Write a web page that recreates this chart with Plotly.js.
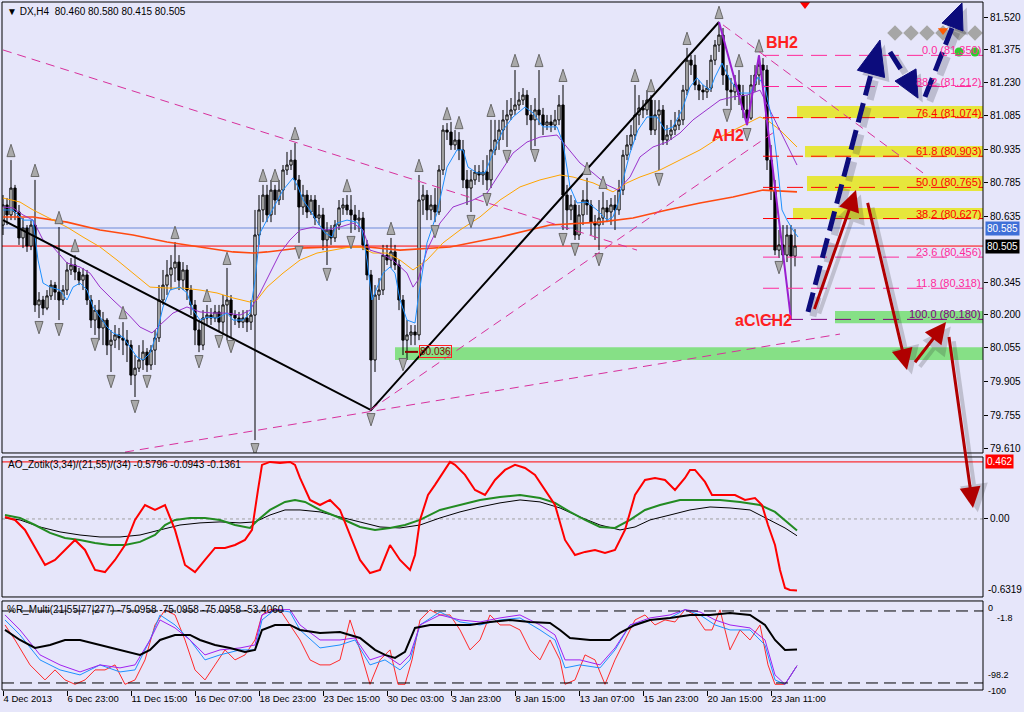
<!DOCTYPE html>
<html><head><meta charset="utf-8">
<script src="https://cdn.plot.ly/plotly-3.0.1.min.js"></script>
<style>html,body{margin:0;padding:0;background:#e6e6fa;}#chart{width:1024px;height:712px;}</style>
</head><body><div id="chart"></div>
<script>
// ---------- DATA (DX, H4) ----------
const dateTickBars = [0,16,32,48,64,80,96,112,128,144,160,176,192];
const dateTickLabels = ['4 Dec 2013','6 Dec 23:00','11 Dec 15:00','16 Dec 07:00','18 Dec 23:00','23 Dec 15:00','30 Dec 03:00','3 Jan 23:00','8 Jan 15:00','13 Jan 07:00','15 Jan 23:00','20 Jan 15:00','23 Jan 11:00'];
const priceTicks = [81.52,81.375,81.23,81.085,80.935,80.785,80.635,80.345,80.2,80.055,79.905,79.755,79.61];

const open = [80.598,80.687,80.643,80.762,80.656,80.541,80.585,80.505,80.598,80.244,
80.266,80.230,80.284,80.332,80.301,80.266,80.310,80.399,80.421,80.390,
80.354,80.377,80.266,80.177,80.221,80.142,80.177,80.066,80.088,80.111,
80.098,80.088,80.066,79.933,79.964,80.000,80.035,79.978,80.044,80.098,
80.266,80.332,80.377,80.408,80.434,80.354,80.399,80.310,80.244,80.133,
80.066,80.186,80.199,80.186,80.213,80.168,80.244,80.266,80.199,80.186,
80.168,80.186,80.168,80.199,80.554,80.665,80.731,80.643,80.753,80.709,
80.753,80.842,80.864,80.886,80.798,80.678,80.731,80.656,80.709,80.629,
80.643,80.532,80.576,80.541,80.598,80.674,80.687,80.665,80.643,80.620,
80.629,80.510,80.377,80.000,80.288,80.310,80.465,80.443,80.479,80.421,
80.266,80.088,80.111,80.124,80.111,80.709,80.731,80.665,80.687,80.656,
80.842,81.019,81.010,80.953,80.975,80.931,80.798,80.762,80.798,80.833,
80.820,80.833,80.798,80.931,80.975,81.019,81.064,81.086,81.108,81.130,
81.152,81.174,81.086,81.064,81.108,81.086,81.041,81.055,81.041,81.064,
81.130,80.731,80.665,80.687,80.554,80.643,80.709,80.687,80.611,80.598,
80.629,80.674,80.656,80.687,80.665,80.753,80.908,80.953,80.997,81.086,
81.117,81.108,81.152,81.019,81.086,81.108,80.975,80.997,81.019,81.041,
81.064,81.196,81.329,81.307,81.219,81.196,81.188,81.205,81.329,81.396,
81.440,81.263,81.196,81.188,81.219,81.174,81.108,81.072,81.219,81.263,
81.307,81.285,80.886,80.753,80.487,80.510,80.465,80.554,80.460];
const high = [80.731,80.718,80.886,80.776,80.687,80.629,80.598,80.620,80.798,80.301,
80.284,80.310,80.354,80.346,80.589,80.332,80.434,80.452,80.465,80.408,
80.408,80.399,80.288,80.244,80.266,80.213,80.186,80.133,80.155,80.142,
80.168,80.133,80.088,80.022,80.066,80.088,80.053,80.066,80.133,80.332,
80.399,80.443,80.465,80.523,80.465,80.434,80.421,80.332,80.266,80.177,
80.221,80.244,80.230,80.244,80.244,80.288,80.408,80.288,80.221,80.213,
80.221,80.221,80.266,80.665,80.731,80.776,80.776,80.798,80.776,80.798,
80.864,80.922,80.931,80.962,80.820,80.776,80.753,80.731,80.731,80.687,
80.674,80.611,80.598,80.620,80.709,80.718,80.731,80.731,80.687,80.665,
80.656,80.532,80.399,80.332,80.363,80.510,80.510,80.541,80.510,80.443,
80.288,80.177,80.155,80.155,80.820,80.776,80.753,80.731,80.762,80.864,
81.041,81.050,81.055,81.019,81.010,80.975,80.842,80.842,80.864,80.864,
80.886,80.908,81.064,81.064,81.064,81.108,81.152,81.161,81.285,81.188,
81.205,81.196,81.130,81.161,81.285,81.117,81.086,81.086,81.108,81.174,
81.219,80.776,80.731,80.709,80.687,80.753,80.807,80.709,80.643,80.709,
80.745,80.709,80.718,80.731,80.798,80.931,80.997,81.041,81.219,81.174,
81.152,81.196,81.174,81.152,81.152,81.130,81.041,81.064,81.099,81.108,
81.219,81.383,81.352,81.352,81.241,81.219,81.241,81.352,81.418,81.498,
81.471,81.307,81.250,81.263,81.285,81.219,81.174,81.263,81.307,81.350,
81.338,81.307,80.953,80.798,80.576,80.598,80.598,80.598,80.580];
const low = [80.554,80.598,80.620,80.620,80.510,80.496,80.479,80.487,80.213,80.186,
80.199,80.221,80.266,80.266,80.177,80.244,80.288,80.377,80.354,80.332,
80.310,80.244,80.142,80.111,80.088,80.066,80.022,79.947,80.053,80.044,
80.022,79.991,79.889,79.836,79.947,79.956,79.947,79.956,79.978,80.080,
80.244,80.288,80.310,80.346,80.310,80.310,80.266,80.199,80.066,80.035,
80.044,80.155,80.155,80.168,80.124,80.111,80.088,80.102,80.155,80.142,
80.142,80.124,80.133,79.645,80.510,80.611,80.611,80.611,80.643,80.687,
80.709,80.820,80.842,80.753,80.519,80.643,80.629,80.643,80.598,80.598,
80.487,80.421,80.510,80.523,80.576,80.643,80.643,80.563,80.576,80.567,
80.487,80.354,79.778,79.947,80.266,80.288,80.421,80.408,80.399,80.221,
80.022,80.000,80.066,80.066,80.088,80.643,80.620,80.620,80.611,80.643,
80.820,80.975,80.931,80.931,80.886,80.762,80.687,80.656,80.776,80.789,
80.776,80.753,80.762,80.908,80.931,80.975,80.944,81.064,81.086,81.108,
81.130,81.041,80.931,80.948,81.041,80.997,81.019,81.010,81.019,81.041,
80.576,80.576,80.620,80.532,80.532,80.598,80.643,80.554,80.532,80.487,
80.598,80.611,80.598,80.576,80.643,80.731,80.886,80.931,80.975,81.041,
81.072,81.086,80.997,80.997,80.842,80.953,80.953,80.975,80.997,81.019,
81.041,81.174,81.263,81.196,81.152,81.152,81.161,81.188,81.307,81.365,
81.219,81.126,81.108,81.152,81.130,81.072,81.041,81.064,81.188,81.219,
81.196,80.842,80.709,80.465,80.452,80.434,80.434,80.180,80.415];
const close = [80.687,80.643,80.762,80.656,80.541,80.585,80.505,80.598,80.244,80.266,
80.230,80.284,80.332,80.301,80.266,80.310,80.399,80.421,80.390,80.354,
80.377,80.266,80.177,80.221,80.142,80.177,80.066,80.088,80.111,80.098,
80.088,80.066,79.933,79.964,80.000,80.035,79.978,80.044,80.098,80.266,
80.332,80.377,80.408,80.434,80.354,80.399,80.310,80.244,80.133,80.066,
80.186,80.199,80.186,80.213,80.168,80.244,80.266,80.199,80.186,80.168,
80.186,80.168,80.199,80.554,80.665,80.731,80.643,80.753,80.709,80.753,
80.842,80.864,80.886,80.798,80.678,80.731,80.656,80.709,80.629,80.643,
80.532,80.576,80.541,80.598,80.674,80.687,80.665,80.643,80.620,80.629,
80.510,80.377,80.000,80.288,80.310,80.465,80.443,80.479,80.421,80.266,
80.088,80.111,80.124,80.111,80.709,80.731,80.665,80.687,80.656,80.842,
81.019,81.010,80.953,80.975,80.931,80.798,80.762,80.798,80.833,80.820,
80.833,80.798,80.931,80.975,81.019,81.064,81.086,81.108,81.130,81.152,
81.174,81.086,81.064,81.108,81.086,81.041,81.055,81.041,81.064,81.130,
80.731,80.665,80.687,80.554,80.643,80.709,80.687,80.611,80.598,80.629,
80.674,80.656,80.687,80.665,80.753,80.908,80.953,80.997,81.086,81.117,
81.108,81.152,81.019,81.086,81.108,80.975,80.997,81.019,81.041,81.064,
81.196,81.329,81.307,81.219,81.196,81.188,81.205,81.329,81.396,81.440,
81.263,81.196,81.188,81.219,81.174,81.108,81.072,81.219,81.263,81.307,
81.285,80.886,80.753,80.487,80.510,80.465,80.554,80.460,80.505];

// moving averages (bar position, value)
const blueIdx = [0,2.5,5,7.5,8.75,10,11.75,14.25,16,17.5,19.25,21,22.5,24.25,26,27.5,30,31.75,33.5,35,36.75,38.5,40,41.75,44.25,46,47.5,49.25,51,53.5,56,57.5,60,61.75,63,64.25,66,67.5,70,72.5,73.75,75,76.75,78.75,80.5,82.25,83.5,86,88.5,89.75,91,92.25,93.5,95,96.75,98,99.25,101,103,103.75,106,108.5,111,113.5,115,116.25,118.5,120.5,122.5,125,127.5,130.5,132.5,135,138.5,140,141.75,143.5,146,148.5,151,152.5,153.75,155,156.75,158.75,161,163.5,165.5,167.5,169.75,171.75,173.5,175,176.75,178,179.75,181.75,184.25,186.75,188.75,190.5,192.25,193.5,194.75,196,197.5,198.75];
const blueVal = [80.665,80.665,80.620,80.620,80.443,80.341,80.323,80.310,80.266,80.323,80.341,80.310,80.235,80.190,80.146,80.120,80.102,80.057,80.013,80.000,80.031,80.120,80.235,80.310,80.323,80.297,80.221,80.177,80.190,80.186,80.208,80.177,80.177,80.208,80.354,80.563,80.620,80.665,80.753,80.807,80.767,80.709,80.665,80.607,80.563,80.545,80.607,80.620,80.611,80.576,80.443,80.266,80.323,80.385,80.412,80.385,80.266,80.177,80.164,80.266,80.519,80.651,80.855,80.931,80.931,80.855,80.829,80.829,80.917,81.019,81.077,81.121,81.095,81.033,81.033,80.962,80.767,80.696,80.700,80.665,80.620,80.634,80.696,80.798,80.917,81.019,81.077,81.077,81.019,81.033,81.108,81.210,81.250,81.219,81.196,81.254,81.316,81.241,81.183,81.183,81.254,81.210,81.064,80.886,80.665,80.620,80.576,80.545];
const purpIdx = [0,2.5,5,7.5,10,12.5,16,19.25,21.75,24.25,27.5,31,34.25,37.25,39.25,42.5,46,49.25,52.5,56,59.25,61.75,64.25,66.75,69.25,71.75,74.25,77.5,81,84.25,87.5,90,91.75,94.25,97.5,101,102.5,103.75,106,109.25,112.5,117.5,121,124.25,127.5,131,134.25,138.5,141,144.25,147.5,151,153.75,156.75,159.25,162.5,166,169.25,172.5,176,179.25,182.5,186,189.25,191.75,194.25,198.5];
const purpVal = [80.678,80.674,80.643,80.620,80.532,80.501,80.430,80.412,80.385,80.323,80.266,80.208,80.146,80.120,80.155,80.208,80.235,80.213,80.208,80.208,80.199,80.221,80.297,80.385,80.474,80.532,80.576,80.589,80.576,80.589,80.607,80.576,80.487,80.474,80.443,80.385,80.323,80.354,80.487,80.607,80.678,80.709,80.740,80.829,80.917,80.966,80.988,80.997,80.944,80.873,80.829,80.776,80.753,80.811,80.900,80.944,80.966,81.006,81.064,81.108,81.152,81.166,81.174,81.196,81.108,81.019,80.864];
const orIdx = [0,4.25,7.5,11,16,20,24.25,28.5,32.5,36.75,41,45,49.25,53.5,57.5,61.75,63.5,66,70,74.25,78.5,82.5,86.75,89.25,92.5,96,99.25,102.5,106,110,114.25,119.25,124.25,129.25,134.25,139.25,142.5,147.5,152.5,156,159.25,164.25,169.25,174.25,179.25,184.25,189.25,191,194.25,198.5];
const orVal = [80.718,80.700,80.665,80.634,80.589,80.545,80.501,80.443,80.385,80.323,80.319,80.319,80.310,80.297,80.275,80.257,80.266,80.323,80.385,80.443,80.474,80.487,80.501,80.501,80.474,80.474,80.443,80.399,80.443,80.519,80.576,80.634,80.709,80.767,80.798,80.820,80.811,80.785,80.745,80.785,80.811,80.842,80.886,80.931,80.988,81.033,81.077,81.064,81.019,80.944];
const slowIdx = [0,7.5,16,24.25,32.5,41,49.25,57.5,62.5,66,74.25,82.5,91,99.25,111.75,124.25,136.75,149.25,157.5,166,174.25,182.5,190,198.5];
const slowVal = [80.634,80.634,80.611,80.576,80.554,80.523,80.501,80.479,80.474,80.479,80.496,80.501,80.501,80.487,80.501,80.545,80.598,80.611,80.629,80.665,80.696,80.722,80.753,80.745];

// zigzag pivots
const zzIdx = [0,92,179];
const zzVal = [80.620,79.778,81.498];
const harmIdx = [179,186,189,197];
const harmVal = [81.498,81.041,81.350,80.180];

// fractals (bar numbers)
const fracUp = [2,8,14,18,30,43,51,56,65,68,73,86,97,104,111,114,122,128,134,140,146,150,158,162,171,179,184,189];
const fracDn = [9,14,23,27,33,36,49,54,57,63,74,81,87,92,100,108,117,121,126,133,140,143,149,164,181,186,194];

// fibonacci retracement
const fibPct = ['0.0','88.2','76.4','61.8','50.0','38.2','23.6','11.8','100.0'];
const fibPrice = [81.350,81.212,81.074,80.903,80.765,80.627,80.456,80.318,80.180];
const fibColor = ['#ff2a9a','#ff2a9a','#ff0000','#ff0000','#ff0000','#ff0000','#ff2a9a','#ff2a9a','#800080'];

// zones
const zoneStart = [198.5,200.5,201,197.5,208,98];
const zoneLow = [81.072,80.899,80.749,80.624,80.163,80.000];
const zoneHigh = [81.126,80.948,80.815,80.674,80.217,80.057];
const zoneColor = ['#e6e63c','#e6e63c','#e6e63c','#e6e63c','#86e086','#86e086'];

// channel lines [x0,y0,x1,y1]
const channels = [[0,81.374,158.5,80.487],[91.75,79.778,194.25,81.028],[180,81.485,230,80.829],[30.5,79.592,209.25,80.115]];

const lastPrice = 80.505, askPrice = 80.585, markLevel = 80.036;

// AO_Zotik
const aoRIdx = [0.5,3,5.5,8,10.5,13,15.5,18,20.5,23,25.5,28,30.5,33,35.5,38,40.5,43,45.5,48,50.5,53,55.5,58,60.5,62.25,63.75,64.75,66.75,69.25,71.75,73,74.25,76.75,79.25,81.75,84.25,86.75,89.25,91.75,94.25,96.75,99.25,101.75,103,104.25,106.25,108,110.5,111.75,113,115.5,118,120.5,123,125.5,128,130.5,133,135.5,138,140.5,143,145.5,148,150.5,153,155.5,158,160.5,163,165.5,168,170.5,171.75,173,175.5,177.25,179.25,183,185.5,188,189.75,191.25,193,194.25,195.5,196.75,198.5];
const aoRVal = [0.016,-0.008,-0.089,-0.235,-0.373,-0.332,-0.251,-0.170,-0.251,-0.413,-0.430,-0.332,-0.211,-0.008,0.113,0.073,0.113,-0.089,-0.373,-0.430,-0.332,-0.235,-0.235,-0.211,-0.170,-0.089,0.235,0.438,0.462,0.454,0.462,0.438,0.332,0.154,0.113,0.154,0.073,-0.130,-0.332,-0.438,-0.413,-0.211,-0.332,-0.413,-0.292,-0.008,0.194,0.276,0.397,0.462,0.438,0.357,0.235,0.194,0.316,0.397,0.438,0.413,0.357,0.235,0.113,-0.170,-0.292,-0.267,-0.251,-0.276,-0.251,-0.089,0.194,0.316,0.332,0.316,0.235,0.332,0.397,0.397,0.300,0.194,0.194,0.194,0.154,0.170,0.113,-0.049,-0.211,-0.413,-0.559,-0.575,-0.5796];
const aoGIdx = [0.5,4.25,8,11.75,15.5,19.25,23,26.75,30.5,34.25,38,40.5,43,46.75,50.5,54.25,58,61.75,63.75,66.75,70.5,73,75.5,79.25,84.25,89.25,93,96.75,100.5,104.25,109.25,114.25,119.25,124.25,129.25,134.25,138,141.75,145.5,149.25,153,156.75,160.5,164.25,169.25,174.25,179.25,184.25,189.25,193,196.75,198.5];
const aoGVal = [0.032,0.008,-0.049,-0.113,-0.154,-0.170,-0.194,-0.211,-0.211,-0.186,-0.130,-0.049,-0.008,0.008,0.008,-0.008,-0.049,-0.073,-0.008,0.073,0.138,0.154,0.138,0.073,0.008,-0.065,-0.089,-0.073,-0.049,-0.008,0.073,0.113,0.154,0.178,0.194,0.170,0.130,0.057,-0.008,-0.065,-0.073,-0.008,0.073,0.113,0.154,0.154,0.154,0.138,0.113,0.057,-0.049,-0.0943];
const aoKIdx = [0.5,4.25,9.25,14.25,19.25,24.25,29.25,34.25,39.25,44.25,49.25,54.25,59.25,63,66.75,70.5,74.25,79.25,84.25,89.25,94.25,99.25,104.25,109.25,114.25,119.25,124.25,129.25,134.25,139.25,144.25,149.25,154.25,158,161.75,166.75,171.75,176.75,181.75,186.75,191.75,195.5,198.5];
const aoKVal = [0.008,-0.008,-0.065,-0.105,-0.130,-0.146,-0.146,-0.130,-0.089,-0.049,-0.032,-0.024,-0.032,-0.024,0.032,0.073,0.073,0.057,0.016,-0.024,-0.065,-0.073,-0.049,0.008,0.057,0.097,0.130,0.154,0.138,0.089,0.016,-0.049,-0.089,-0.065,-0.008,0.032,0.073,0.097,0.089,0.073,-0.008,-0.073,-0.1361];
const aoLevel = 0.462;

// %R_Multi
const wrKIdx = [0.5,4.25,8,11.75,15.5,19.25,24.25,29.25,34.25,36.75,39.25,43,46.75,49.25,53,56.75,60.5,63,64.75,68,71.75,74.25,79.25,84.25,89.25,93,95.5,98,100.5,103,106.75,111.75,116.75,121.75,126.75,131.75,136.75,139.25,141.75,146.75,151.75,154.25,158,161.75,166.75,171.75,176.75,181.75,186.75,190.5,193,195.5,198.5];
const wrKVal = [-27.2,-40.6,-51.3,-47.3,-40.6,-40.6,-47.3,-53.9,-60.6,-53.9,-40.6,-33.9,-33.9,-40.6,-47.3,-51.3,-56.6,-53.9,-27.2,-20.5,-20.5,-27.2,-31.2,-29.9,-37.9,-53.9,-60.6,-64.7,-56.6,-24.5,-20.5,-20.5,-20.5,-16.5,-13.8,-16.5,-17.8,-27.2,-37.9,-40.6,-40.6,-31.2,-20.5,-13.8,-11.1,-7.1,-7.1,-4.4,-7.1,-20.5,-40.6,-53.9,-53.406];
const wrRIdx = [0.5,3,6.75,10.5,13,15.5,18,20.5,23,25.5,28,30.5,33,35.5,38,40.5,43,45.5,48,50.5,53,55.5,58,60.5,63,64.75,66.75,69.25,71.75,74.25,76.75,79.25,81.75,84.25,86.75,89.25,91.75,94.25,96.75,98.75,100.5,102.25,104.25,106.75,109.25,111.75,114.25,116.75,119.25,121.75,124.25,126.75,129.25,131.75,134.25,136.75,139.25,140.5,143,145.5,148,150.5,153,155.5,158,160.5,163,165.5,168,170.5,173,175.5,177.25,179.25,181.75,184.25,186.75,189.25,191.25,193,195.5,198.5];
const wrRVal = [-20.5,-40.6,-74.0,-94.1,-80.7,-94.1,-100,-94.1,-80.7,-80.7,-74.0,-100,-94.1,-67.3,-20.5,-0.4,-7.1,-40.6,-80.7,-94.1,-74.0,-53.9,-67.3,-60.6,-40.6,-7.1,0,-0.4,-20.5,-40.6,-67.3,-74.0,-74.0,-67.3,-13.8,-53.9,-100,-67.3,-53.9,-100,-100,-67.3,-13.8,-0.4,-7.1,-7.1,-27.2,-53.9,-40.6,-7.1,-20.5,-20.5,-27.2,-53.9,-67.3,-40.6,-67.3,-100,-94.1,-60.6,-67.3,-100,-67.3,-40.6,-13.8,-7.1,-20.5,-13.8,-16.5,0,-7.1,-27.2,-27.2,-0.4,-53.9,-27.2,-40.6,-20.5,-74.0,-100,-100,-75.0958];
const wrMidIdx = [0.5,4.25,9.25,14.25,19.25,24.25,29.25,33,36.75,39.25,43,46.75,50.5,54.25,59.25,63,64.75,68,71.75,74.25,79.25,84.25,88,91.75,95.5,99.25,101.75,104.25,109.25,114.25,119.25,124.25,129.25,134.25,138,140.5,144.25,149.25,153,156.75,161.75,166.75,170.5,174.25,178,181.75,186.75,190.5,193,195.5,198.5];
const wrBVal = [-13.8,-33.9,-67.3,-80.7,-87.4,-74.0,-83.4,-80.7,-40.6,-7.1,-20.5,-40.6,-67.3,-60.6,-53.9,-53.9,-13.8,0,-3.1,-27.2,-51.3,-47.3,-40.6,-74.0,-67.3,-80.7,-67.3,-20.5,-3.1,-16.5,-20.5,-13.8,-11.1,-27.2,-40.6,-78.0,-74.0,-78.0,-53.9,-20.5,-13.8,-11.1,0,-7.1,-20.5,-27.2,-27.2,-47.3,-94.1,-100,-75.0958];
const wrPVal = [-7.1,-27.2,-60.6,-74.0,-83.4,-74.0,-78.0,-74.0,-40.6,-13.8,-24.5,-40.6,-60.6,-53.9,-51.3,-47.3,-7.1,0,0,-20.5,-40.6,-40.6,-37.9,-67.3,-60.6,-74.0,-60.6,-20.5,-7.1,-13.8,-16.5,-11.1,-7.1,-20.5,-33.9,-67.3,-67.3,-74.0,-51.3,-20.5,-11.1,-7.1,0,-3.1,-13.8,-20.5,-24.5,-40.6,-87.4,-100,-75.0958];
const wrLevels = [-1.8,-98.2];

// markers on the right
const diamondIdx = [223,227,231,235,239,243];
const diamondVal = 81.449;
const dotIdx = [239,243];
const dotVal = 81.365;

// drawn projection arrows
const navyLines = [[201.25,80.213,217,81.267],[221.75,81.365,225.5,81.259],[230.5,81.166,237.25,81.471]];
const navyHeads = [[[219.25,81.418],[220.4,81.252],[213.6,81.284]],[[228.75,81.161],[228.25,81.290],[223,81.236]],[[239.75,81.582],[240,81.458],[234.75,81.493]]];
const redArrows = [[213.25,80.753,'y',-44,126],[226,79.956,'y',-41,-174],[235.75,80.168,'y',-34,44],[242.5,0.089,'y2',-25,-178]];

// ---------- BUILD ----------
const FONT = 'Liberation Sans, Arial, sans-serif';
const idx = close.map((_, k) => k);
const traces = [];
function line(x, y, ya, color, width, extra) {
  return Object.assign({type:'scatter', mode:'lines', x:x, y:y, xaxis:'x', yaxis:ya,
    line:{color:color, width:width}, hoverinfo:'skip'}, extra || {});
}
traces.push(line(slowIdx, slowVal, 'y', '#ff4a10', 1.6));
traces.push(line(orIdx, orVal, 'y', '#ffa500', 1));
traces.push({type:'candlestick', x:idx, open:open, high:high, low:low, close:close, xaxis:'x', yaxis:'y',
  increasing:{line:{color:'#000000', width:1}, fillcolor:'#ffffff'},
  decreasing:{line:{color:'#000000', width:1}, fillcolor:'#000000'},
  whiskerwidth:0, hoverinfo:'skip'});
traces.push(line(purpIdx, purpVal, 'y', '#9932cc', 1));
traces.push(line(blueIdx, blueVal, 'y', '#1e90ff', 1));
traces.push(line(zzIdx, zzVal, 'y', '#000000', 2));
traces.push(line(harmIdx, harmVal, 'y', '#9a1fd0', 2));
traces.push({type:'scatter', mode:'markers', x:fracUp, y:fracUp.map(k => high[k] + 0.07), xaxis:'x', yaxis:'y',
  marker:{symbol:'arrow', size:13, color:'#a9a9a9', line:{color:'#6a6a6a', width:1}}, hoverinfo:'skip'});
traces.push({type:'scatter', mode:'markers', x:fracDn, y:fracDn.map(k => low[k] - 0.07), xaxis:'x', yaxis:'y',
  marker:{symbol:'arrow', angle:180, size:13, color:'#a9a9a9', line:{color:'#6a6a6a', width:1}}, hoverinfo:'skip'});
traces.push({type:'scatter', mode:'markers', x:diamondIdx, y:diamondIdx.map(() => diamondVal), xaxis:'x', yaxis:'y',
  marker:{symbol:'diamond', size:12, color:'#a6a6a6'}, hoverinfo:'skip'});
traces.push({type:'scatter', mode:'markers', x:dotIdx, y:dotIdx.map(() => dotVal), xaxis:'x', yaxis:'y',
  marker:{symbol:'circle', size:9, color:'#2ecc2e'}, hoverinfo:'skip'});
traces.push({type:'scatter', mode:'markers', x:[235], y:[81.46], xaxis:'x', yaxis:'y',
  marker:{symbol:'triangle-down', size:9, color:'#ff5a00'}, hoverinfo:'skip'});
traces.push({type:'scatter', mode:'markers', x:[200.5], y:[81.575], xaxis:'x', yaxis:'y',
  marker:{symbol:'triangle-down', size:9, color:'#ff0000'}, hoverinfo:'skip'});
// AO panel
traces.push(line(aoKIdx, aoKVal, 'y2', '#000000', 1));
traces.push(line(aoGIdx, aoGVal, 'y2', '#228b22', 2));
traces.push(line(aoRIdx, aoRVal, 'y2', '#ff0000', 2));
// %R panel
traces.push(line(wrRIdx, wrRVal, 'y3', '#ff2a2a', 1));
traces.push(line(wrMidIdx, wrBVal, 'y3', '#1e90ff', 1));
traces.push(line(wrMidIdx, wrPVal, 'y3', '#a020f0', 1));
traces.push(line(wrKIdx, wrKVal, 'y3', '#000000', 2));

const shapes = [];
zoneStart.forEach((s, k) => shapes.push({type:'rect', xref:'x', yref:'y', x0:s, x1:245, y0:zoneLow[k], y1:zoneHigh[k],
  fillcolor:zoneColor[k], line:{width:0}, layer:'below'}));
shapes.push({type:'line', xref:'paper', yref:'y', x0:0, x1:1, y0:askPrice, y1:askPrice, line:{color:'#6d8ad8', width:1}, layer:'below'});
shapes.push({type:'line', xref:'paper', yref:'y', x0:0, x1:1, y0:lastPrice, y1:lastPrice, line:{color:'#ff0000', width:1}, layer:'below'});
fibPrice.forEach((p, k) => shapes.push({type:'line', xref:'x', yref:'y', x0:190, x1:245, y0:p, y1:p,
  line:{color:fibColor[k], width:1, dash:'16px,8px'}}));
channels.forEach(c => shapes.push({type:'line', xref:'x', yref:'y', x0:c[0], y0:c[1], x1:c[2], y1:c[3],
  line:{color:'#d8309c', width:1, dash:'9px,6px'}}));
shapes.push({type:'line', xref:'x', yref:'y', x0:100.5, x1:103.75, y0:markLevel, y1:markLevel, line:{color:'#8b0000', width:2}});
shapes.push({type:'line', xref:'paper', yref:'y2', x0:0, x1:1, y0:aoLevel, y1:aoLevel, line:{color:'#ff0000', width:1}});
shapes.push({type:'line', xref:'paper', yref:'y2', x0:0, x1:1, y0:0, y1:0, line:{color:'#a0a0a0', width:1, dash:'3px,3px'}, layer:'below'});
wrLevels.forEach(v => shapes.push({type:'line', xref:'paper', yref:'y3', x0:0, x1:1, y0:v, y1:v, line:{color:'#000000', width:1, dash:'12px,6px'}}));
// navy projection arrows: shadows then arrows
navyLines.forEach(l => shapes.push({type:'line', xref:'x', yref:'y', x0:l[0]+1.2, y0:l[1]-0.02, x1:l[2]+1.2, y1:l[3]-0.02,
  line:{color:'rgba(40,40,60,0.22)', width:7, dash:'20px,8px'}}));
navyHeads.forEach(h => shapes.push({type:'path', xref:'x', yref:'y',
  path:'M' + h.map(p => (p[0]+1.2) + ',' + (p[1]-0.02)).join(' L') + ' Z', fillcolor:'rgba(40,40,60,0.22)', line:{width:0}}));
navyLines.forEach(l => shapes.push({type:'line', xref:'x', yref:'y', x0:l[0], y0:l[1], x1:l[2], y1:l[3],
  line:{color:'#0c0c7c', width:5, dash:'20px,8px'}}));
navyHeads.forEach(h => shapes.push({type:'path', xref:'x', yref:'y',
  path:'M' + h.map(p => p[0] + ',' + p[1]).join(' L') + ' Z', fillcolor:'#0c0c7c', line:{color:'#0c0c7c', width:1}}));
// panel frames
[[0.3445,1],[0.1352,0.3387],[0,0.1294]].forEach(d => shapes.push({type:'rect', xref:'paper', yref:'paper',
  x0:0, x1:1, y0:d[0], y1:d[1], line:{color:'#000000', width:1}, fillcolor:'rgba(0,0,0,0)'}));

const ann = [];
function txt(o) { return Object.assign({showarrow:false, font:{family:FONT, size:10, color:'#000'}}, o); }
ann.push(txt({xref:'paper', yref:'paper', x:0, y:1, xanchor:'left', yanchor:'top', xshift:3, yshift:-2,
  text:'▼ DX,H4  80.460 80.580 80.415 80.505'}));
ann.push(txt({xref:'paper', yref:'paper', x:0, y:0.3387, xanchor:'left', yanchor:'top', xshift:4, yshift:0,
  text:'AO_Zotik(3,34)/(21,55)/(34) -0.5796 -0.0943 -0.1361'}));
ann.push(txt({xref:'paper', yref:'paper', x:0, y:0.1294, xanchor:'left', yanchor:'top', xshift:3, yshift:-1,
  text:'%R_Multi(21|55|77|277) -75.0958 -75.0958 -75.0958 -53.4060'}));
fibPrice.forEach((p, k) => ann.push(txt({xref:'x', yref:'y', x:245, y:p, xanchor:'right', yanchor:'bottom', yshift:-3,
  text:fibPct[k] + ' (' + p.toFixed(3) + ')', font:{family:FONT, size:11, color:fibColor[k]}})));
ann.push(txt({xref:'x', yref:'y', x:194.75, y:81.405, text:'<b>BH2</b>', font:{family:FONT, size:16, color:'#ff2020'}}));
ann.push(txt({xref:'x', yref:'y', x:181.25, y:80.993, text:'<b>AH2</b>', font:{family:FONT, size:16, color:'#ff2020'}}));
ann.push(txt({xref:'x', yref:'y', x:190, y:80.173, text:'<b>aC\\CH2</b>', font:{family:FONT, size:16, color:'#ff2020'}}));
ann.push(txt({xref:'x', yref:'y', x:108, y:markLevel, text:markLevel.toFixed(3), bordercolor:'#ff2020', borderwidth:1, borderpad:0,
  font:{family:FONT, size:10, color:'#8b0000'}}));
ann.push(txt({xref:'paper', yref:'y', x:1, y:askPrice, xanchor:'left', xshift:2, text:askPrice.toFixed(3), bgcolor:'#3f70d8', borderpad:1,
  font:{family:FONT, size:10, color:'#ffffff'}}));
ann.push(txt({xref:'paper', yref:'y', x:1, y:lastPrice, xanchor:'left', xshift:2, text:lastPrice.toFixed(3), bgcolor:'#000000', borderpad:1,
  font:{family:FONT, size:10, color:'#ffffff'}}));
ann.push(txt({xref:'paper', yref:'y2', x:1, y:aoLevel, xanchor:'left', xshift:2, text:aoLevel.toFixed(3), bgcolor:'#ff0000', borderpad:1,
  font:{family:FONT, size:10, color:'#ffffff'}}));
ann.push(txt({xref:'paper', yref:'y2', x:1, y:-0.6319, xanchor:'left', yanchor:'bottom', xshift:3, text:'-0.6319'}));
ann.push(txt({xref:'paper', yref:'y3', x:1, y:11.6, xanchor:'left', yanchor:'top', xshift:3, text:'0', font:{family:FONT, size:9, color:'#000'}}));
ann.push(txt({xref:'paper', yref:'y3', x:1, y:-1.8, xanchor:'left', yanchor:'top', xshift:12, yshift:0, text:'-1.8', font:{family:FONT, size:9, color:'#000'}}));
ann.push(txt({xref:'paper', yref:'y3', x:1, y:-98.2, xanchor:'left', yanchor:'bottom', xshift:3, yshift:1, text:'-98.2', font:{family:FONT, size:9, color:'#000'}}));
ann.push(txt({xref:'paper', yref:'y3', x:1, y:-98.2, xanchor:'left', yanchor:'top', xshift:3, yshift:-1, text:'-100', font:{family:FONT, size:9, color:'#000'}}));
redArrows.forEach(a => {
  const sh = a[2] === 'y' ? 0.02 : 0.035;
  ann.push({xref:'x', yref:a[2], x:a[0]+1.2, y:a[1]-sh, ax:a[3], ay:a[4], axref:'pixel', ayref:'pixel', text:' ',
    showarrow:true, arrowhead:2, arrowsize:1.4, arrowwidth:4, arrowcolor:'rgba(40,40,40,0.2)', standoff:0});
  ann.push({xref:'x', yref:a[2], x:a[0], y:a[1], ax:a[3], ay:a[4], axref:'pixel', ayref:'pixel', text:' ',
    showarrow:true, arrowhead:2, arrowsize:1.4, arrowwidth:3, arrowcolor:'#b00000', standoff:0});
});

const layout = {
  width:1024, height:712, margin:{l:2, r:41, t:2, b:22},
  paper_bgcolor:'#e6e6fa', plot_bgcolor:'#e6e6fa', showlegend:false, dragmode:false, boxgap:0.2,
  font:{family:FONT, size:10, color:'#000'},
  xaxis:{range:[-0.25,245], anchor:'y3', tickvals:dateTickBars, ticktext:dateTickLabels, ticks:'outside', ticklen:5,
    tickangle:0, tickcolor:'#000', showgrid:false, zeroline:false, showline:false, ticklabelposition:'outside right',
    rangeslider:{visible:false}, tickfont:{family:FONT, size:9.5, color:'#000'}},
  yaxis:{domain:[0.3445,1], range:[79.588,81.5865], side:'right', anchor:'x', tickvals:priceTicks,
    ticktext:priceTicks.map(v => v.toFixed(3)), ticks:'outside', ticklen:4, tickcolor:'#000', showgrid:false, zeroline:false,
    tickfont:{family:FONT, size:10, color:'#000'}},
  yaxis2:{domain:[0.1352,0.3387], range:[-0.632,0.502], side:'right', anchor:'x', tickvals:[0], ticktext:['0.00'],
    ticks:'outside', ticklen:4, tickcolor:'#000', showgrid:false, zeroline:false, tickfont:{family:FONT, size:10, color:'#000'}},
  yaxis3:{domain:[0,0.1294], range:[-107.6,11.6], side:'right', anchor:'x', showticklabels:false, ticks:'',
    showgrid:false, zeroline:false},
  shapes:shapes, annotations:ann
};
Plotly.newPlot('chart', traces, layout, {displayModeBar:false, staticPlot:true});
</script>
</body></html>
